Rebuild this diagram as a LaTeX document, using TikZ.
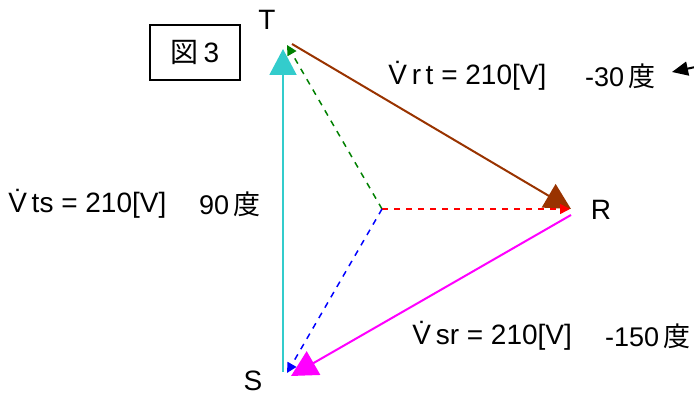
\documentclass[tikz,border=0pt]{standalone}
\usepackage{fontspec}
\setmainfont{Liberation Sans}
\newfontfamily\jp{Noto Sans CJK JP}
\usepackage{xcolor}
\usetikzlibrary{arrows.meta, positioning, calc}
\definecolor{tscyan}{RGB}{51,204,204}
\definecolor{rtbrown}{RGB}{153,51,0}
\definecolor{srmag}{RGB}{255,0,255}
\definecolor{phgreen}{RGB}{0,128,0}
\tikzset{
    vlabel/.style={inner sep=0pt, font=\fontsize{14}{16}\selectfont},
    alabel/.style={inner sep=0pt, font=\fontsize{13.5}{16}\selectfont},
    plabel/.style={inner sep=0pt, font=\fontsize{14}{16}\selectfont},
    figbox/.style={rectangle, draw=black, line width=0.7pt,
                   minimum width=45pt, minimum height=27.5pt,
                   font=\fontsize{14}{16}\selectfont},
    lline/.style={line width=1pt, -{Triangle[length=13pt, width=13.5pt]}},
    pline/.style={line width=0.75pt, dashed, -{Triangle[length=5pt, width=5pt]}},
    pointer/.style={line width=1pt, -{Triangle[length=8pt, width=7pt]}}
}

\begin{document}
\begin{tikzpicture}[x=0.5pt, y=-0.5pt]
\useasboundingbox (0,0) rectangle (694,394);
\clip (0,0) rectangle (694,394);

% ── Vertex points ─────────────────────────────────────────────────────
\coordinate (o)   at (382,209);
\coordinate (tp)  at (287,45);
\coordinate (rp)  at (570,209);
\coordinate (sp)  at (287,373);
\coordinate (tsA) at (283,372);
\coordinate (tsB) at (283,49);
\coordinate (rtA) at (292,44);
\coordinate (rtB) at (571,209);
\coordinate (srA) at (571,215);
\coordinate (srB) at (291,376);

% ── Terminal labels ───────────────────────────────────────────────────
\node[plabel] at (267,20)  (tlab) {T};
\node[plabel] at (601,210) (rlab) {R};
\node[plabel] at (253,381) (slab) {S};

\node[figbox] at (195,52.5) (fig) {{\jp 図}\,3};

% ── Line voltages ─────────────────────────────────────────────────────
\draw[lline, tscyan]  (tsA) -- (tsB);
\draw[lline, rtbrown] (rtA) -- (rtB);
\draw[lline, srmag]   (srA) -- (srB);

% ── Phase voltages ────────────────────────────────────────────────────
\draw[pline, phgreen] (o) -- (tp);
\draw[pline, red]     (o) -- (rp);
\draw[pline, blue]    (o) -- (sp);

% ── Values ────────────────────────────────────────────────────────────
\node[vlabel, anchor=west] at (388,76)  (vrt) {\.{V}\,r\,t = 210[V]};
\node[alabel, anchor=east] at (656,76)  (art) {-30\,{\jp 度}};
\node[vlabel, anchor=west] at (8,204)   (vts) {\.{V}\,ts = 210[V]};
\node[alabel, anchor=east] at (261,204) (ats) {90\,{\jp 度}};
\node[vlabel, anchor=west] at (412,336) (vsr) {\.{V}\,sr = 210[V]};
\node[alabel, anchor=east] at (691,336) (asr) {-150\,{\jp 度}};

\coordinate (ptail) at (700,66);
\coordinate (ptip)  at (672,72);
\draw[pointer] (ptail) -- (ptip);
\end{tikzpicture}
\end{document}
